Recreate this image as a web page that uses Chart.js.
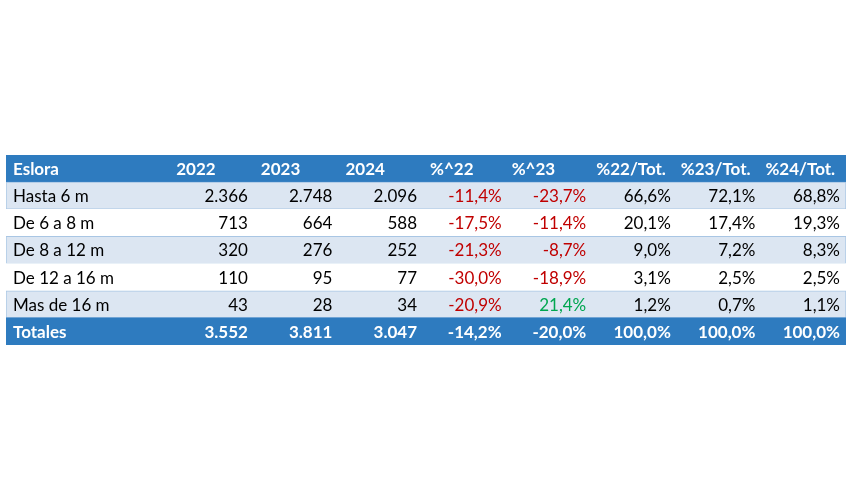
<!DOCTYPE html>
<html>
<head>
<meta charset="utf-8">
<script src="https://cdn.jsdelivr.net/npm/chart.js@4/dist/chart.umd.min.js"></script>
<style>
  html, body { margin: 0; background: #fff; }
  #wrap { width: 850px; height: 500px; }
</style>
</head>
<body>
<div id="wrap"><canvas id="tabla"></canvas></div>
<script>
const headers = ["Eslora", "2022", "2023", "2024", "%^22", "%^23", "%22/Tot.", "%23/Tot.", "%24/Tot."];
const categories = ["Hasta 6 m", "De 6 a 8 m", "De 8 a 12 m", "De 12 a 16 m", "Mas de 16 m"];
const units2022 = [2366, 713, 320, 110, 43];
const units2023 = [2748, 664, 276, 95, 28];
const units2024 = [2096, 588, 252, 77, 34];
const change22 = [-11.4, -17.5, -21.3, -30.0, -20.9];
const change23 = [-23.7, -11.4, -8.7, -18.9, 21.4];
const share22 = [66.6, 20.1, 9.0, 3.1, 1.2];
const share23 = [72.1, 17.4, 7.2, 2.5, 0.7];
const share24 = [68.8, 19.3, 8.3, 2.5, 1.1];
const totalLabel = "Totales";
const totals = [3552, 3811, 3047, -14.2, -20.0, 100.0, 100.0, 100.0];

const BLUE = "#2e7bbf";
const SHADE = "#dce6f2";
const SHADE_LINE = "#a9c6e4";
const RED = "#c00000";
const GREEN = "#00a650";
const FONT = "Lato";
const FIRST_COL = 1.93; // width of the "Eslora" column, in column units
const TABLE_UNITS = FIRST_COL + headers.length - 1;

const rowLabels = [headers[0], ...categories, totalLabel];

function fmtInt(n) {
  return String(n).replace(/\B(?=(\d{3})+(?!\d))/g, ".");
}

function fmtPct(v) {
  return v.toFixed(1).replace(".", ",") + "%";
}

function bodyRow(i) {
  return [
    { text: fmtInt(units2022[i]) },
    { text: fmtInt(units2023[i]) },
    { text: fmtInt(units2024[i]) },
    { text: fmtPct(change22[i]), color: change22[i] < 0 ? RED : GREEN },
    { text: fmtPct(change23[i]), color: change23[i] < 0 ? RED : GREEN },
    { text: fmtPct(share22[i]) },
    { text: fmtPct(share23[i]) },
    { text: fmtPct(share24[i]) },
  ];
}

function rowFill(r) {
  if (r === 0 || r === rowLabels.length - 1) return BLUE;
  return r % 2 === 1 ? SHADE : "#ffffff";
}

const tableText = {
  id: "tableText",
  afterDatasetsDraw(chart) {
    const { ctx, scales } = chart;
    const x = scales.x;
    const y = scales.y;
    const colLeft = (c) => x.getPixelForValue(c === 0 ? 0 : FIRST_COL + c - 1);
    const colRight = (c) => x.getPixelForValue(FIRST_COL + c);
    ctx.save();
    ctx.textBaseline = "middle";

    // header row
    ctx.font = `bold 17px ${FONT}`;
    ctx.fillStyle = "#ffffff";
    ctx.textAlign = "left";
    headers.forEach((h, c) => {
      const pad = c === 0 ? 7 : (c >= 5 ? 4 : 7);
      ctx.fillText(h, colLeft(c) + pad, y.getPixelForValue(0) + 1);
    });

    // body rows
    categories.forEach((name, i) => {
      const py = y.getPixelForValue(i + 1) + 1;
      ctx.font = `17px ${FONT}`;
      ctx.textAlign = "left";
      ctx.fillStyle = "#000000";
      ctx.fillText(name, colLeft(0) + 7, py);
      ctx.textAlign = "right";
      bodyRow(i).forEach((cell, k) => {
        ctx.fillStyle = cell.color || "#000000";
        ctx.fillText(cell.text, colRight(k + 1) - 6, py);
      });
    });

    // totals row
    const ty = y.getPixelForValue(rowLabels.length - 1) + 1;
    ctx.font = `bold 17px ${FONT}`;
    ctx.fillStyle = "#ffffff";
    ctx.textAlign = "left";
    ctx.fillText(totalLabel, colLeft(0) + 7, ty);
    ctx.textAlign = "right";
    totals.forEach((v, k) => {
      const text = k < 3 ? fmtInt(v) : fmtPct(v);
      ctx.fillText(text, colRight(k + 1) - 6, ty);
    });
    ctx.restore();
  },
};

new Chart(document.getElementById("tabla"), {
  type: "bar",
  data: {
    labels: rowLabels,
    datasets: [
      {
        data: rowLabels.map(() => [0, TABLE_UNITS]),
        backgroundColor: rowLabels.map((_, r) => rowFill(r)),
        borderColor: rowLabels.map((_, r) => (rowFill(r) === SHADE ? SHADE_LINE : rowFill(r))),
        borderWidth: rowLabels.map((_, r) => (rowFill(r) === SHADE ? 1 : 0)),
        borderSkipped: false,
        barPercentage: 1,
        categoryPercentage: 1,
      },
    ],
  },
  options: {
    indexAxis: "y",
    responsive: true,
    maintainAspectRatio: false,
    animation: false,
    events: [],
    layout: { padding: { left: 6, right: 4, top: 155, bottom: 155 } },
    plugins: {
      legend: { display: false },
      tooltip: { enabled: false },
    },
    scales: {
      x: { type: "linear", min: 0, max: TABLE_UNITS, display: false },
      y: { type: "category", display: false },
    },
  },
  plugins: [tableText],
});
</script>
</body>
</html>
